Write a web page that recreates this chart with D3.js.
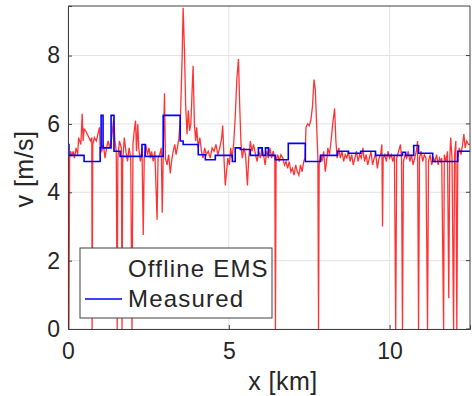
<!DOCTYPE html>
<html>
<head>
<meta charset="utf-8">
<script src="https://cdn.jsdelivr.net/npm/d3@7"></script>
<style>
  body { margin: 0; background: #fff; }
  svg text { font-family: "Liberation Sans", Arial, sans-serif; fill: #262626; }
</style>
</head>
<body>
<svg id="chart" width="472" height="396"></svg>
<script>
// axis ticks
const xTicks = [0, 5, 10];
const yTicks = [0, 2, 4, 6, 8];

// Offline EMS estimate [km, m/s]
const emsData = [
  [0.00,5.1],[0.03,0],[0.05,5.0],[0.08,5.2],[0.12,5.05],[0.16,5.2],[0.20,5.0],[0.25,5.3],[0.30,5.1],[0.33,5.6],
  [0.40,5.4],[0.44,6.3],[0.47,5.5],[0.50,5.85],[0.55,5.8],[0.60,5.7],[0.65,5.6],[0.70,5.5],[0.74,5.6],[0.75,0],
  [0.77,5.4],[0.82,5.6],[0.88,5.5],[0.93,5.7],[0.98,5.9],[1.00,5.3],[1.05,5.2],[1.10,5.4],[1.15,5.0],[1.20,5.3],
  [1.25,5.5],[1.30,5.3],[1.36,5.6],[1.42,6.15],[1.46,5.5],[1.50,5.2],[1.53,0],[1.55,5.0],[1.60,5.5],[1.66,5.3],
  [1.68,0],[1.70,4.9],[1.75,5.6],[1.80,5.2],[1.85,4.9],[1.90,5.3],[1.95,5.0],[1.99,0],[2.02,5.4],[2.06,5.8],
  [2.10,6.1],[2.13,5.2],[2.17,6.0],[2.20,5.3],[2.25,4.9],[2.30,5.3],[2.34,2.75],[2.37,5.0],[2.42,5.4],[2.47,5.1],
  [2.52,5.3],[2.56,5.0],[2.60,5.2],[2.65,4.9],[2.70,5.2],[2.77,3.2],[2.80,5.0],[2.85,5.1],[2.90,5.3],[2.93,3.4],
  [2.96,5.0],[3.00,6.9],[3.03,5.0],[3.08,4.8],[3.13,5.1],[3.18,4.55],[3.22,4.9],[3.27,5.2],[3.32,5.4],[3.36,5.1],
  [3.40,5.3],[3.45,5.6],[3.50,6.3],[3.55,8.0],[3.58,9.4],[3.62,8.2],[3.66,6.5],[3.70,5.7],[3.74,6.4],[3.78,5.8],
  [3.82,6.0],[3.86,7.0],[3.89,7.7],[3.93,6.0],[3.97,5.5],[4.00,5.9],[4.05,5.3],[4.10,5.6],[4.15,5.2],[4.20,5.0],
  [4.25,5.3],[4.30,5.1],[4.36,5.2],[4.42,5.0],[4.48,5.3],[4.54,5.2],[4.60,5.4],[4.66,5.1],[4.72,5.3],[4.78,5.6],
  [4.81,5.95],[4.85,5.0],[4.89,4.2],[4.93,4.6],[4.97,5.0],[5.02,4.8],[5.06,5.3],[5.10,5.0],[5.15,5.4],[5.20,6.2],
  [5.25,7.3],[5.30,7.9],[5.34,6.5],[5.38,5.4],[5.42,5.0],[5.47,5.3],[5.52,5.1],[5.58,4.2],[5.62,5.0],[5.67,5.5],
  [5.72,5.2],[5.77,5.4],[5.83,5.1],[5.88,4.9],[5.93,5.2],[5.98,5.0],[6.03,5.3],[6.08,5.1],[6.13,4.8],[6.18,5.2],
  [6.23,5.0],[6.28,5.3],[6.33,5.0],[6.38,5.2],[6.43,5.0],[6.45,0],[6.47,4.9],[6.52,5.1],[6.57,4.9],[6.62,5.1],
  [6.68,5.0],[6.73,4.8],[6.78,4.9],[6.83,4.7],[6.88,4.9],[6.93,4.6],[6.98,4.7],[7.03,4.5],[7.08,4.8],[7.13,4.6],
  [7.18,4.5],[7.23,4.8],[7.28,4.6],[7.33,4.9],[7.37,5.0],[7.40,5.9],[7.45,6.0],[7.50,5.95],[7.55,6.1],[7.60,6.5],
  [7.65,7.3],[7.69,7.0],[7.73,6.0],[7.77,5.0],[7.79,0],[7.81,4.8],[7.86,5.1],[7.90,4.9],[7.95,5.2],[8.00,4.6],
  [8.04,4.9],[8.08,5.3],[8.13,5.1],[8.18,5.5],[8.23,6.0],[8.29,6.45],[8.33,5.5],[8.37,5.0],[8.42,5.3],[8.47,5.0],
  [8.52,5.2],[8.57,4.9],[8.62,5.1],[8.67,5.0],[8.72,5.2],[8.77,4.9],[8.82,5.1],[8.87,4.8],[8.92,5.0],[8.97,5.2],
  [9.02,4.9],[9.07,5.1],[9.12,5.0],[9.17,5.3],[9.22,4.9],[9.27,5.1],[9.32,4.8],[9.37,5.0],[9.42,5.2],[9.47,4.8],
  [9.52,5.0],[9.57,5.1],[9.62,4.7],[9.67,5.0],[9.72,5.1],[9.76,5.4],[9.78,3.0],[9.80,5.0],[9.85,5.1],[9.90,4.9],
  [9.95,5.2],[10.00,5.0],[10.05,5.1],[10.10,4.9],[10.15,5.1],[10.19,0],[10.22,5.0],[10.28,5.2],[10.34,5.4],[10.37,5.0],
  [10.40,0],[10.43,4.9],[10.48,5.1],[10.53,5.0],[10.58,5.2],[10.63,4.9],[10.68,5.1],[10.73,4.8],[10.78,5.0],[10.83,5.2],
  [10.87,5.5],[10.90,0],[10.93,5.0],[10.98,5.2],[11.03,4.9],[11.08,5.1],[11.13,5.0],[11.18,0],[11.21,4.9],[11.26,5.1],
  [11.31,4.8],[11.36,5.0],[11.41,4.9],[11.46,5.1],[11.51,4.8],[11.55,5.0],[11.59,4.9],[11.62,5.0],[11.68,0],[11.70,5.1],
  [11.75,4.9],[11.80,5.2],[11.84,0.9],[11.87,5.0],[11.90,5.6],[11.94,5.0],[11.99,0],[12.02,5.1],[12.06,5.5],[12.09,0],
  [12.12,5.0],[12.17,5.3],[12.22,5.1],[12.27,5.4],[12.31,5.7],[12.35,5.3],[12.40,5.5],[12.45,5.4],[12.50,5.4]
];

// measured speed, piecewise constant [km, m/s]
const measuredData = [
  [0.00,5.4],[0.03,5.08],[0.50,4.9],[1.00,5.3],[1.03,6.25],[1.09,5.3],[1.34,6.25],[1.43,5.2],[1.62,5.05],
  [2.30,5.4],[2.40,5.05],[2.96,6.25],[3.49,5.5],[3.58,5.4],[4.05,5.1],[4.27,4.95],[4.58,5.08],[5.11,4.9],
  [5.20,5.3],[5.36,5.25],[5.67,5.08],[5.92,5.3],[6.04,5.08],[6.14,5.3],[6.23,5.08],[6.45,4.95],[6.85,5.43],
  [7.38,4.9],[7.85,5.08],[8.38,5.2],[8.72,5.14],[9.10,5.2],[9.56,5.08],[10.40,5.17],[10.50,5.08],[10.75,5.37],
  [10.90,5.14],[11.34,4.9],[12.12,5.2],[12.50,5.2]
];

const svg = d3.select('#chart');
const margin = { left: 68, right: 2, top: 6, bottom: 67 };
const W = 472, H = 396;

const x = d3.scaleLinear().domain([0, 12.5]).range([margin.left, W - margin.right]);
const y = d3.scaleLinear().domain([0, 9.45]).range([H - margin.bottom, margin.top]);

svg.append('defs').append('clipPath').attr('id', 'clip')
  .append('rect')
  .attr('x', x(0)).attr('y', y(9.45))
  .attr('width', x(12.5) - x(0)).attr('height', y(0) - y(9.45));

// grid
svg.append('g')
  .selectAll('line')
  .data(xTicks)
  .join('line')
  .attr('x1', d => x(d)).attr('x2', d => x(d))
  .attr('y1', y(0)).attr('y2', y(9.45))
  .style('stroke', '#e3e3e3');

svg.append('g')
  .selectAll('line')
  .data(yTicks)
  .join('line')
  .attr('x1', x(0)).attr('x2', x(12.5))
  .attr('y1', d => y(d)).attr('y2', d => y(d))
  .style('stroke', '#e3e3e3');

// data lines
const line = d3.line().x(d => x(d[0])).y(d => y(d[1]));
const plot = svg.append('g').attr('clip-path', 'url(#clip)');

plot.append('path')
  .datum(emsData)
  .attr('d', line)
  .style('fill', 'none')
  .style('stroke', '#ff0000')
  .style('stroke-width', 1.3)
  .style('stroke-opacity', 0.8);

plot.append('path')
  .datum(measuredData)
  .attr('d', line.curve(d3.curveStepAfter))
  .style('fill', 'none')
  .style('stroke', '#0000ff')
  .style('stroke-width', 1.6);

// axes
const xAxis = svg.append('g')
  .attr('transform', 'translate(0,' + y(0) + ')')
  .call(d3.axisBottom(x).tickValues(xTicks).tickSize(-4).tickPadding(14));
const yAxis = svg.append('g')
  .attr('transform', 'translate(' + x(0) + ',0)')
  .call(d3.axisLeft(y).tickValues(yTicks).tickSize(-4).tickPadding(8));

[xAxis, yAxis].forEach(a => {
  a.select('.domain').style('stroke', '#404040');
  a.selectAll('.tick line').style('stroke', '#404040');
  a.selectAll('text').style('font-size', '23px').style('fill', '#262626');
});

// box top / right
svg.append('line')
  .attr('x1', x(0)).attr('x2', x(12.5)).attr('y1', y(9.45)).attr('y2', y(9.45))
  .style('stroke', '#404040');
svg.append('line')
  .attr('x1', x(12.5)).attr('x2', x(12.5)).attr('y1', y(9.45)).attr('y2', y(0))
  .style('stroke', '#404040');
svg.append('g')
  .selectAll('line')
  .data(yTicks)
  .join('line')
  .attr('x1', x(12.5)).attr('x2', x(12.5) - 4)
  .attr('y1', d => y(d)).attr('y2', d => y(d))
  .style('stroke', '#404040');

// axis labels
svg.append('text')
  .attr('x', 283).attr('y', 390)
  .attr('text-anchor', 'middle')
  .style('font-size', '25px')
  .style('letter-spacing', '0.5px')
  .text('x [km]');

svg.append('text')
  .attr('transform', 'translate(33,169) rotate(-90)')
  .attr('text-anchor', 'middle')
  .style('font-size', '25px')
  .style('letter-spacing', '0.5px')
  .text('v [m/s]');

// legend
const lg = svg.append('g');
lg.append('rect')
  .attr('x', 80).attr('y', 248).attr('width', 192).attr('height', 70)
  .style('fill', '#fff').style('stroke', '#404040');
lg.append('text')
  .attr('x', 128).attr('y', 277)
  .style('font-size', '24px')
  .style('letter-spacing', '1.2px')
  .text('Offline EMS');
lg.append('line')
  .attr('x1', 85).attr('x2', 122).attr('y1', 299).attr('y2', 299)
  .style('stroke', '#0000ff').style('stroke-width', 1.6);
lg.append('text')
  .attr('x', 128).attr('y', 307)
  .style('font-size', '24px')
  .style('letter-spacing', '1.2px')
  .text('Measured');
</script>
</body>
</html>
